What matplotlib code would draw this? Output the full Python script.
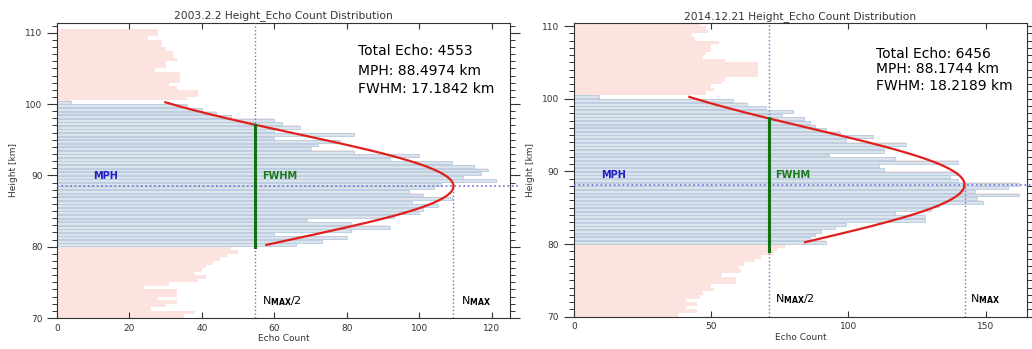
import numpy as np
import matplotlib.pyplot as plt
from matplotlib.ticker import MultipleLocator

# height bins (bottom edge, km), 0.5 km wide
heights = np.arange(70.0, 110.5, 0.5)

# 2003.2.2 echo counts per bin, bottom to top
low_2003 = [35, 38, 26, 30, 33, 28, 33, 33, 24, 31, 39, 41, 38, 40, 41, 43, 45, 47, 50, 48]
mid_2003 = [66, 73, 80, 60, 81, 92, 81, 69, 93, 100, 101, 105, 98, 109, 101, 97, 104, 106, 121, 112,
            117, 119, 115, 109, 92, 100, 82, 70, 72, 78, 60, 82, 60, 67, 62, 60, 48, 44, 40, 36,
            4]
high_2003 = [36, 39, 39, 33, 31, 34, 34, 34, 27, 30, 30, 33, 32, 32, 30, 29, 29, 25, 28, 28]

# 2014.12.21 echo counts per bin, bottom to top
low_2014 = [38, 45, 41, 45, 41, 46, 47, 51, 50, 59, 59, 54, 61, 60, 62, 66, 68, 73, 74, 77]
mid_2014 = [92, 86, 88, 90, 95, 99, 128, 128, 117, 130, 133, 149, 147, 162, 146, 158, 162, 140, 137, 140,
            113, 111, 140, 117, 93, 113, 113, 121, 99, 109, 97, 92, 88, 86, 84, 76, 80, 70, 63, 58,
            9]
high_2014 = [48, 51, 50, 54, 55, 67, 67, 67, 67, 55, 47, 48, 50, 50, 53, 44, 43, 49, 48, 46]

titles = ['2003.2.2 Height_Echo Count Distribution', '2014.12.21 Height_Echo Count Distribution']
total_echo = [4553, 6456]
mph = [88.4974, 88.1744]
fwhm = [17.1842, 18.2189]
n_max = [109.4, 142.3]

PINK = '#fde3e0'
BLUE_FILL = '#dde3ea'
BLUE_EDGE = '#b3cbe0'
DOT = '#7070dc'

fig = plt.figure(figsize=(10.32, 3.49), dpi=100)
axes_pos = [[0.0552, 0.0888, 0.439, 0.846], [0.556, 0.0926, 0.439, 0.842]]
xlims = [125, 165]
ytops = [111.4, 110.45]
xsteps = [20, 50]
text_y = [[0.903, 0.838, 0.776], [0.894, 0.844, 0.786]]
text_x = [0.664, 0.668]

panels = [(low_2003, mid_2003, high_2003), (low_2014, mid_2014, high_2014)]

for i, (low, mid, high) in enumerate(panels):
    ax = fig.add_axes(axes_pos[i])
    counts = np.array(low + mid + high, dtype=float)
    inner = (heights >= 80) & (heights <= 100)

    # pink histogram for all bins, blue bars on top inside 80-100 km
    ax.barh(heights, counts, height=0.5, align='edge', color=PINK, linewidth=0, zorder=1)
    ax.barh(heights[inner] + 0.25, counts[inner], height=0.4, align='center',
            facecolor=BLUE_FILL, edgecolor=BLUE_EDGE, linewidth=0.6, zorder=2)

    # gaussian fit
    sigma = fwhm[i] / (2 * np.sqrt(2 * np.log(2)))
    hh = np.linspace(80.25, 100.25, 200)
    ax.plot(n_max[i] * np.exp(-(hh - mph[i]) ** 2 / (2 * sigma ** 2)), hh,
            color='#e0201c', lw=1.6, zorder=5)

    half = n_max[i] / 2
    ax.axvline(half, color=DOT, ls=':', lw=1.0, zorder=3)
    ax.plot([n_max[i], n_max[i]], [70, mph[i]], color=DOT, ls=':', lw=1.0, zorder=3)
    ax.plot([0, xlims[i] * 1.02], [mph[i], mph[i]], color=DOT, ls=':', lw=1.2,
            zorder=4, clip_on=False)
    ax.plot([half, half], [mph[i] - fwhm[i] / 2, mph[i] + fwhm[i] / 2],
            color='#127012', lw=2.2, zorder=6)

    ax.text(10, mph[i] + 1.35, 'MPH', color='#2020c8', fontsize=7, fontweight='bold',
            va='center', zorder=7)
    ax.text(half + 2, mph[i] + 1.35, 'FWHM', color='#1a7a1a', fontsize=7, fontweight='bold',
            va='center', zorder=7)
    ax.text(half + 2, 72.4, r'N$_{\bf MAX}$/2', fontsize=8, va='center')
    ax.text(n_max[i] + 2, 72.4, r'N$_{\bf MAX}$', fontsize=8, va='center')

    lines = ['Total Echo: %d' % total_echo[i], 'MPH: %.4f km' % mph[i], 'FWHM: %.4f km' % fwhm[i]]
    for line, ty in zip(lines, text_y[i]):
        ax.text(text_x[i], ty, line, transform=ax.transAxes, fontsize=10, va='center')

    ax.set_xlim(0, xlims[i])
    ax.set_ylim(70, ytops[i])
    ax.xaxis.set_major_locator(MultipleLocator(xsteps[i]))
    ax.yaxis.set_major_locator(MultipleLocator(10))
    ax.yaxis.set_minor_locator(MultipleLocator(1))
    ax.tick_params(axis='x', direction='in', top=True, length=4, width=0.8,
                   labelsize=6.5, pad=4, colors='#333333')
    ax.tick_params(axis='y', which='major', direction='out', right=True, length=7, width=0.8,
                   labelsize=6.5, colors='#333333')
    ax.tick_params(axis='y', which='minor', direction='out', right=True, length=3.5, width=0.7,
                   colors='#333333')
    for s in ax.spines.values():
        s.set_linewidth(0.8)
        s.set_color('#333333')
    ax.set_xlabel('Echo Count', fontsize=6.5, labelpad=1, color='#333333')
    ax.set_ylabel('Height [km]', fontsize=6.5, labelpad=5, color='#333333')
    ax.set_title(titles[i], fontsize=7.7, pad=3, color='#333333')

fig.savefig('out.png', dpi=100)
